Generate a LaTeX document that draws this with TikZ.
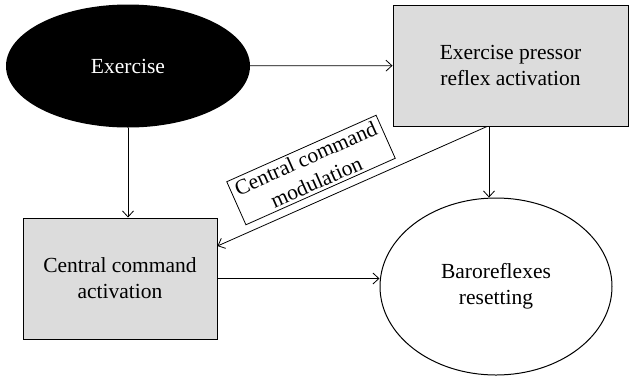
\documentclass[tikz,border=0pt]{standalone}
\usepackage{fontspec}
\setmainfont{Liberation Serif}
\usetikzlibrary{shapes.geometric,arrows.meta}
\definecolor{boxgray}{HTML}{DCDCDC}
\begin{document}
\begin{tikzpicture}[x=1pt,y=-1pt,
  every node/.style={font=\fontsize{21.5}{26}\selectfont, align=center},
  graybox/.style={draw, line width=1pt, fill=boxgray, rectangle, minimum width=#1},
  conn/.style={draw, line width=0.8pt, -{Straight Barb[length=6pt,width=11pt,line width=0.8pt]}}
]
\path[use as bounding box] (0,0) rectangle (630,376);
\node[ellipse, fill=black, text=white, minimum width=244pt, minimum height=123pt, inner sep=0pt] (ex) at (128,66) {Exercise};
\node[graybox=235pt, minimum height=121pt] (epr) at (510.5,65.5) {Exercise pressor\\reflex activation};
\node[graybox=194pt, minimum height=121pt] (cca) at (120,278.5) {Central command\\activation};
\node[ellipse, draw, line width=1pt, minimum width=232pt, minimum height=177pt, inner sep=0pt] (baro) at (496,286.5) {Baroreflexes\\resetting};
\node[draw, line width=0.8pt, rotate=24, inner xsep=5pt, inner ysep=3pt] (lab) at (311,170) {Central command\\modulation};
\draw[conn] (ex) -- (epr);
\draw[conn] (ex.south) -- (ex.south |- cca.north);
\draw[conn] ([xshift=-7pt]baro.north |- epr.south) -- ([xshift=-7pt]baro.north);
\draw[conn] (cca.east) -- (cca.east -| baro.west);
\draw[conn] ([xshift=-23.5pt]epr.south) -- ([yshift=32.5pt]cca.east);
\end{tikzpicture}
\end{document}
